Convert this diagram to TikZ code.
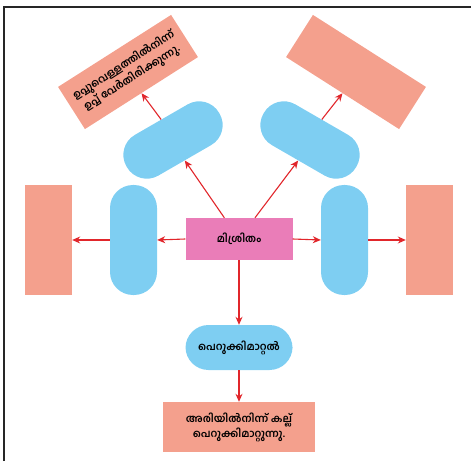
\documentclass[tikz,border=0pt]{standalone}
\usepackage{fontspec}
\usepackage{tikz}
\usetikzlibrary{arrows.meta}
\newfontfamily\mlfont[Script=Malayalam]{Hind Kochi}
\definecolor{saltbox}{RGB}{244,160,141}
\definecolor{pillblue}{RGB}{126,206,242}
\definecolor{mixpink}{RGB}{234,125,184}
\definecolor{arrowred}{RGB}{225,38,43}

\begin{document}
\begin{tikzpicture}[x=1pt,y=1pt,
    box/.style={fill=saltbox,inner sep=0pt,font=\mlfont\bfseries\fontsize{10.5}{15}\selectfont,align=center},
    pill/.style={fill=pillblue,inner sep=0pt,rounded corners=23pt,font=\mlfont\bfseries\fontsize{10.5}{15}\selectfont},
    arr/.style={draw=arrowred,line width=1.1pt,-{Stealth[length=8pt,width=7pt]}}]
  \useasboundingbox (0,0) rectangle (471,461);
  \draw[color=black!85,line width=2.5pt] (4,0) -- (4,454) -- (471,454);

  \node[fill=mixpink,minimum width=107pt,minimum height=42pt,font=\mlfont\bfseries\fontsize{10.5}{15}\selectfont] (mix) at (239,222) {മിശ്രിതം};

  \node[pill,minimum width=47pt,minimum height=110pt] (lpill) at (133.5,221) {};
  \node[pill,minimum width=47pt,minimum height=110pt] (rpill) at (344.5,221) {};
  \node[box,minimum width=47pt,minimum height=110pt] (lbox) at (48.5,221) {};
  \node[box,minimum width=47pt,minimum height=110pt] (rbox) at (429.5,221) {};

  \node[pill,minimum width=107pt,minimum height=45pt] (pick) at (239,113.5) {പെറുക്കിമാറ്റൽ};
  \node[box,minimum width=152pt,minimum height=50pt] (rice) at (239,34) {അരിയിൽനിന്ന് കല്ല്\\പെറുക്കിമാറ്റുന്നു.};

  \node[pill,minimum width=107pt,minimum height=47pt,rotate=30] (ulpill) at (173,321) {};
  \node[pill,minimum width=107pt,minimum height=47pt,rotate=-30] (urpill) at (310,321) {};
  \node[box,minimum width=134pt,minimum height=50pt,rotate=32.5] (salt) at (128,389) {ഉപ്പുവെള്ളത്തിൽനിന്ന്\\ഉപ്പ് വേർതിരിക്കുന്നു.};
  \node[box,minimum width=134pt,minimum height=50pt,rotate=-32.5] (urbox) at (356,389) {};

  \draw[arr] (mix.west) -- (lpill.east);
  \draw[arr] (lpill.west) -- (lbox.east);
  \draw[arr] (mix.east) -- (rpill.west);
  \draw[arr] (rpill.east) -- (rbox.west);
  \draw[arr] (mix.south) -- (pick.north);
  \draw[arr] (pick.south) -- (rice.north);
  \draw[arr] (mix) -- (ulpill.south);
  \draw[arr] (mix) -- (urpill.south);
  \draw[arr] (ulpill.north) -- (salt.south);
  \draw[arr] (urpill.north) -- (urbox.south);
\end{tikzpicture}
\end{document}
